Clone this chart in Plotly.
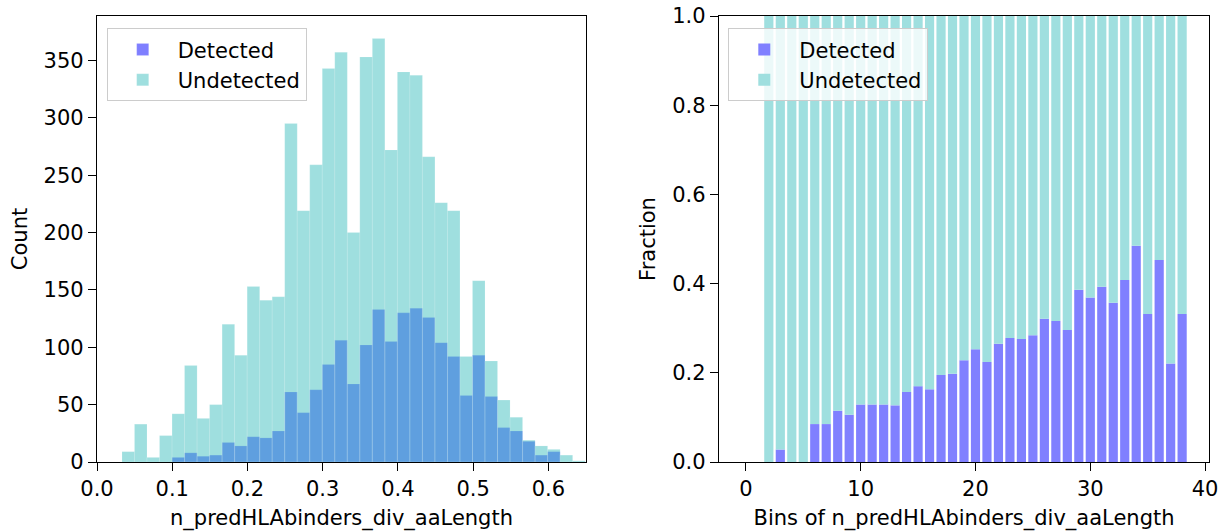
import numpy as np
import plotly.graph_objects as go

# ---- Left panel: histogram counts (shared bins) ----
bin_start = 0.0332
bin_width = 0.01664
undetected_counts = [9, 33, 4, 23, 42, 84, 38, 50, 120, 93, 153, 141, 144, 295, 219, 259,
                     343, 357, 200, 353, 369, 272, 340, 337, 266, 226, 219, 92, 158, 88,
                     54, 39, 19, 14, 11, 6, 1]
detected_counts = [0, 0, 0, 0, 4, 8, 5, 6, 17, 14, 22, 21, 27, 61, 43, 63,
                   85, 106, 68, 102, 133, 105, 130, 134, 126, 104, 92, 58, 93, 57,
                   30, 27, 18, 6, 9, 0, 0]

# ---- Right panel: fraction detected per bin index ----
bin_index = list(range(39))
detected_fraction = [None, None, 0.0, 0.028, 0.0, 0.0, 0.085, 0.085, 0.115, 0.106,
                     0.129, 0.129, 0.129, 0.127, 0.157, 0.170, 0.163, 0.195, 0.198, 0.228,
                     0.253, 0.224, 0.265, 0.278, 0.276, 0.284, 0.321, 0.316, 0.296, 0.386,
                     0.369, 0.393, 0.357, 0.408, 0.485, 0.332, 0.453, 0.221, 0.332]
undetected_fraction = [None if f is None else 1.0 - f for f in detected_fraction]

series_names = ["Detected", "Undetected"]

centers = bin_start + bin_width * (np.arange(len(undetected_counts)) + 0.5)

FONT = "DejaVu Sans"
BLUE_A = "rgba(0,0,255,0.5)"
CYAN_A = "rgba(63,191,191,0.5)"
BLUE = "#8080ff"
CYAN = "#9fdfdf"

fig = go.Figure()
fig.add_trace(go.Bar(x=centers, y=detected_counts, width=bin_width, name=series_names[0],
                     marker=dict(color=BLUE_A, line=dict(width=0.4, color="rgba(255,255,255,0.35)")),
                     xaxis="x", yaxis="y", legend="legend"))
fig.add_trace(go.Bar(x=centers, y=undetected_counts, width=bin_width, name=series_names[1],
                     marker=dict(color=CYAN_A, line=dict(width=0.4, color="rgba(255,255,255,0.35)")),
                     xaxis="x", yaxis="y", legend="legend"))

fig.add_trace(go.Bar(x=bin_index, y=detected_fraction, width=0.8, name=series_names[0],
                     marker=dict(color=BLUE, line=dict(width=0)),
                     xaxis="x2", yaxis="y2", legend="legend2"))
fig.add_trace(go.Bar(x=bin_index, y=undetected_fraction, width=0.8, name=series_names[1],
                     base=detected_fraction,
                     marker=dict(color=CYAN, line=dict(width=0)),
                     xaxis="x2", yaxis="y2", legend="legend2"))

axis_common = dict(showline=True, linecolor="black", linewidth=1.3, mirror=True,
                   ticks="outside", ticklen=8, tickwidth=1.3, tickcolor="black",
                   showgrid=False, zeroline=False,
                   tickfont=dict(family=FONT, size=21, color="black"))

L, R, T, B = 97, 13, 16, 69
W, H = 1222, 531
pw = W - L - R
dom1 = [0, (586 - L) / pw]
dom2 = [(719 - L) / pw, 1]

fig.update_layout(
    width=W, height=H,
    margin=dict(l=L, r=R, t=T, b=B, autoexpand=False),
    plot_bgcolor="white", paper_bgcolor="white",
    barmode="overlay",
    font=dict(family=FONT, size=21, color="black"),
    xaxis=dict(domain=dom1, range=[0, 0.65], tickvals=[0, 0.1, 0.2, 0.3, 0.4, 0.5, 0.6],
               tickformat=".1f", anchor="y",
               title=dict(text="n_predHLAbinders_div_aaLength", standoff=9,
                          font=dict(family=FONT, size=21)), **axis_common),
    yaxis=dict(domain=[0, 1], range=[0, 388.7], tickvals=[0, 50, 100, 150, 200, 250, 300, 350],
               anchor="x",
               title=dict(text="Count", standoff=10, font=dict(family=FONT, size=21)), **axis_common),
    xaxis2=dict(domain=dom2, range=[-2.34, 40.34], tickvals=[0, 10, 20, 30, 40], anchor="y2",
                title=dict(text="Bins of n_predHLAbinders_div_aaLength", standoff=9,
                           font=dict(family=FONT, size=21)), **axis_common),
    yaxis2=dict(domain=[0, 1], range=[0, 1.0], tickvals=[0, 0.2, 0.4, 0.6, 0.8, 1.0],
                tickformat=".1f", anchor="x2",
                title=dict(text="Fraction", standoff=10, font=dict(family=FONT, size=21)), **axis_common),
    legend=dict(x=(106.7 - L) / pw, y=1 - (28.3 - T) / (H - T - B), xanchor="left", yanchor="top",
                bgcolor="rgba(255,255,255,0.8)", bordercolor="#cccccc", borderwidth=1,
                itemwidth=60, font=dict(family=FONT, size=21), traceorder="normal"),
    legend2=dict(x=(728.3 - L) / pw, y=1 - (28.3 - T) / (H - T - B), xanchor="left", yanchor="top",
                 bgcolor="rgba(255,255,255,0.8)", bordercolor="#cccccc", borderwidth=1,
                 itemwidth=60, font=dict(family=FONT, size=21), traceorder="normal"),
)

fig.write_html("out.html")
